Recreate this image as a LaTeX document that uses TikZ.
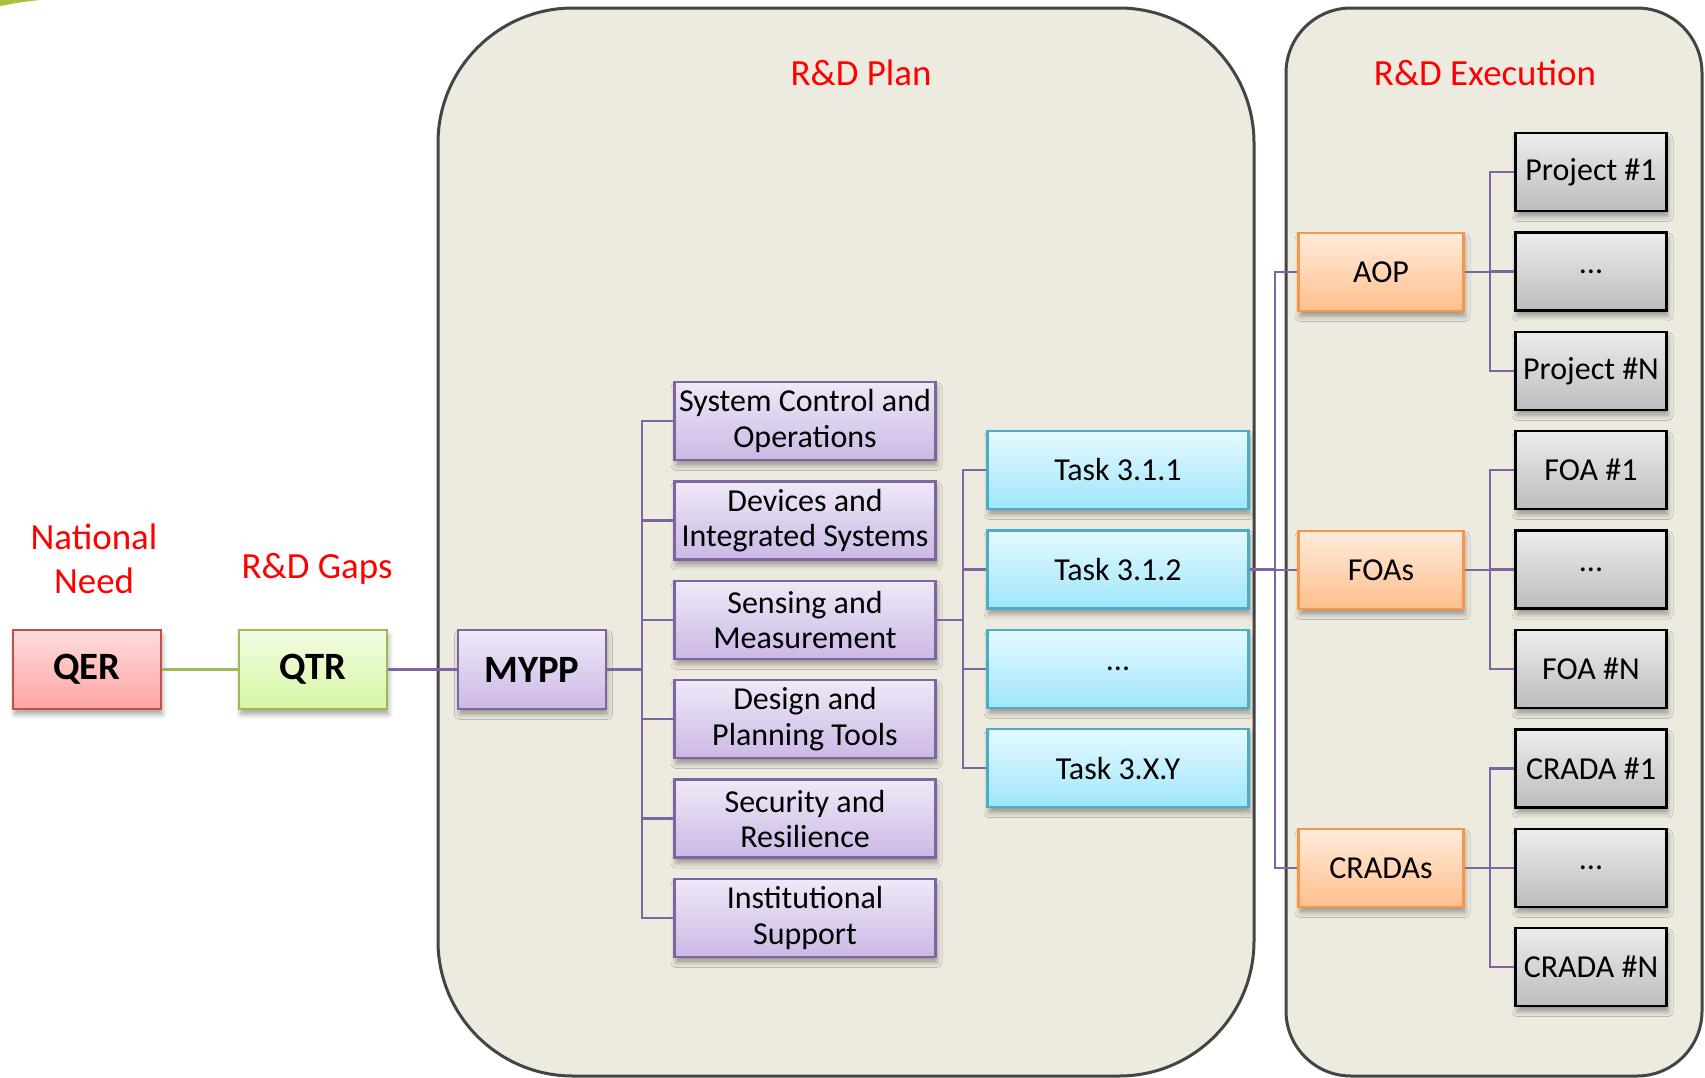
\documentclass[tikz,border=0pt]{standalone}
\usepackage{fontspec}
\setmainfont{Carlito}
\usetikzlibrary{positioning, shadows.blur}

\definecolor{panelfill}{HTML}{EDEADF}
\definecolor{panelline}{HTML}{444444}
\definecolor{labelred}{HTML}{FF0000}
\definecolor{qerline}{HTML}{C0504D}
\definecolor{qertop}{HTML}{FFDCDC}
\definecolor{qerbot}{HTML}{FFA4A4}
\definecolor{qtrline}{HTML}{9BBB59}
\definecolor{qtrtop}{HTML}{F3FCE4}
\definecolor{qtrbot}{HTML}{D6F7A4}
\definecolor{purpline}{HTML}{8064A2}
\definecolor{purptop}{HTML}{EFE9F7}
\definecolor{purpbot}{HTML}{CBB8E5}
\definecolor{cyanline}{HTML}{4BACC6}
\definecolor{cyantop}{HTML}{E5F9FF}
\definecolor{cyanbot}{HTML}{9FE6FA}
\definecolor{orgline}{HTML}{F79646}
\definecolor{orgtop}{HTML}{FFEBDC}
\definecolor{orgbot}{HTML}{FFBF8C}
\definecolor{greytop}{HTML}{EDEDED}
\definecolor{greybot}{HTML}{BCBCBC}
\definecolor{arcgreen}{HTML}{A9C23C}

\tikzset{
  panel/.style={draw=panelline, fill=panelfill, line width=0.6mm},
  redlabel/.style={text=labelred, align=center, font=\fontsize{21}{24.7}\selectfont},
  box/.style={draw, line width=0.5mm, minimum height=15.6mm, inner sep=0.5mm,
    align=center, font=\fontsize{18.2}{20}\selectfont,
    blur shadow={shadow xshift=0.3mm, shadow yshift=-1.1mm,
      shadow blur radius=1mm, shadow opacity=35}},
  topbox/.style={box, minimum width=29.6mm, minimum height=15.8mm,
    font=\fontsize{22}{26}\selectfont\bfseries},
  qerbox/.style={topbox, draw=qerline, top color=qertop, bottom color=qerbot},
  qtrbox/.style={topbox, draw=qtrline, top color=qtrtop, bottom color=qtrbot},
  myppbox/.style={topbox, draw=purpline, top color=purptop, bottom color=purpbot},
  areabox/.style={box, minimum width=52.2mm, draw=purpline, top color=purptop, bottom color=purpbot},
  taskbox/.style={box, minimum width=52.2mm, draw=cyanline, top color=cyantop, bottom color=cyanbot},
  mechbox/.style={box, minimum width=33mm, draw=orgline, top color=orgtop, bottom color=orgbot},
  itembox/.style={box, minimum width=30.2mm, draw=black, top color=greytop, bottom color=greybot},
  link/.style={draw=purpline, line width=0.45mm},
  greenlink/.style={draw=qtrline, line width=0.45mm}
}

\begin{document}
\begin{tikzpicture}[x=0.2mm, y=-0.2mm, node distance=19.88mm]
    \useasboundingbox (0,0) rectangle (1705,1078);

    % corner of a shape cut off by the page
    \fill[arcgreen] (0,0) -- (40,0) .. controls (22,2) .. (0,6) -- cycle;

    % the two panels
    \draw[panel, rounded corners=27mm] (438,8) rectangle (1254,1076);
    \draw[panel, rounded corners=13mm] (1286,8) rectangle (1702,1076);
    \node[redlabel] (plan) at (861,73) {R\&D Plan};
    \node[redlabel] (exec) at (1485,73) {R\&D Execution};

    % need and gaps
    \node[redlabel] (need) at (94,559) {National\\Need};
    \node[redlabel] (gaps) at (317,569) {R\&D Gaps};
    \node (qer) [qerbox] at (87,669.5) {QER};
    \node (qtr) [qtrbox] at (313,669.5) {QTR};
    \node (mypp) [myppbox] at (532,669.5) {MYPP};

    % program areas
    \node (sco) [areabox] at (805,421) {System Control and\\Operations};
    \node (dis) [areabox, below of=sco] {Devices and\\Integrated Systems};
    \node (sm) [areabox, below of=dis] {Sensing and\\Measurement};
    \node (dpt) [areabox, below of=sm] {Design and\\Planning Tools};
    \node (sr) [areabox, below of=dpt] {Security and\\Resilience};
    \node (is) [areabox, below of=sr] {Institutional\\Support};

    % tasks
    \node (t1) [taskbox] at (1118,470) {Task 3.1.1};
    \node (t2) [taskbox, below of=t1] {Task 3.1.2};
    \node (t3) [taskbox, below of=t2] {...};
    \node (t4) [taskbox, below of=t3] {Task 3.X.Y};

    % execution mechanisms
    \node (aop) [mechbox] at (1381,272) {AOP};
    \node (foa) [mechbox] at (1381,570) {FOAs};
    \node (crada) [mechbox] at (1381,868) {CRADAs};

    \node (p1) [itembox] at (1591,172) {Project \#1};
    \node (p2) [itembox, below of=p1] {...};
    \node (pn) [itembox, below of=p2] {Project \#N};
    \node (f1) [itembox, below of=pn] {FOA \#1};
    \node (f2) [itembox, below of=f1] {...};
    \node (fn) [itembox, below of=f2] {FOA \#N};
    \node (c1) [itembox, below of=fn] {CRADA \#1};
    \node (c2) [itembox, below of=c1] {...};
    \node (cn) [itembox, below of=c2] {CRADA \#N};

    % connectors
    \draw[greenlink] (qer) -- (qtr);
    \draw[link] (qtr) -- (mypp);
    \foreach \n in {sco,dis,sm,dpt,sr,is}
        \draw[link] (mypp.east) -- ++(35,0) |- (\n.west);
    \foreach \n in {t1,t2,t3,t4}
        \draw[link] (sm.east) -- ++(26,0) |- (\n.west);
    \foreach \n in {aop,foa,crada}
        \draw[link] (t2.east) -- ++(25,0) |- (\n.west);
    \foreach \n in {p1,p2,pn}
        \draw[link] (aop.east) -- ++(25,0) |- (\n.west);
    \foreach \n in {f1,f2,fn}
        \draw[link] (foa.east) -- ++(25,0) |- (\n.west);
    \foreach \n in {c1,c2,cn}
        \draw[link] (crada.east) -- ++(25,0) |- (\n.west);
\end{tikzpicture}
\end{document}
